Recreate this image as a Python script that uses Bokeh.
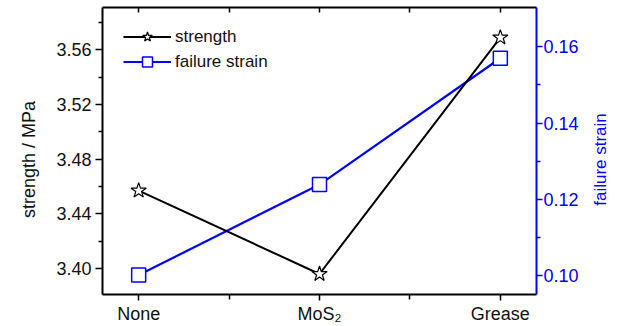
import math
from bokeh.plotting import figure
from bokeh.models import (Range1d, LinearAxis, FixedTicker, Legend, LegendItem,
                          NumeralTickFormatter, Label)
from bokeh.embed import file_html
from bokeh.resources import INLINE

categories = ["None", "MoS₂", "Grease"]
strength = [3.457, 3.396, 3.569]
failure_strain = [0.1002, 0.1239, 0.157]
left_ticks = [3.40, 3.44, 3.48, 3.52, 3.56]
left_minor = [3.42, 3.46, 3.50, 3.54, 3.58]
right_ticks = [0.10, 0.12, 0.14, 0.16]
right_minor = [0.11, 0.13, 0.15]
left_title = "strength / MPa"
right_title = "failure strain"

x = list(range(len(categories)))
x_minor = [i + 0.5 for i in x[:-1]]

FONT = "Liberation Sans"
BLUE = "#0000ff"
FS = "18px"

p = figure(width=617, height=326, output_backend="svg", toolbar_location=None,
           x_range=Range1d(-0.2, 2.2), y_range=Range1d(3.381, 3.591),
           min_border_left=102, min_border_right=81, min_border_top=7, min_border_bottom=31)
p.extra_y_ranges = {"strain": Range1d(0.0951, 0.1703)}
p.xgrid.visible = False
p.ygrid.visible = False
p.outline_line_color = None
p.background_fill_color = "white"
p.border_fill_color = "white"

def style_axis(ax, color):
    ax.axis_line_color = color
    ax.axis_line_width = 2
    ax.major_tick_line_color = color
    ax.minor_tick_line_color = color
    ax.major_tick_line_width = 1.5
    ax.minor_tick_line_width = 1.5
    ax.major_label_text_font = FONT
    ax.major_label_text_font_size = FS
    ax.major_label_text_color = color

xa = p.xaxis[0]
xa.ticker = FixedTicker(ticks=x, minor_ticks=x_minor)
xa.major_label_overrides = {i: c for i, c in zip(x, categories)}
style_axis(xa, "black")
xa.major_label_text_color = "#111111"
xa.major_tick_out = 6
xa.major_tick_in = 0
xa.minor_tick_out = 5
xa.minor_tick_in = 0
xa.major_label_standoff = 3

ya = p.yaxis[0]
ya.ticker = FixedTicker(ticks=left_ticks, minor_ticks=left_minor)
ya.formatter = NumeralTickFormatter(format="0.00")
style_axis(ya, "black")
ya.major_label_text_color = "#111111"
ya.major_tick_out = 7
ya.major_tick_in = 0
ya.minor_tick_out = 4
ya.minor_tick_in = 0
ya.major_label_standoff = 4

top = LinearAxis(ticker=FixedTicker(ticks=x, minor_ticks=x_minor))
style_axis(top, "black")
top.major_tick_out = 0
top.major_tick_in = 5
top.minor_tick_out = 0
top.minor_tick_in = 5
top.major_label_overrides = {i: "" for i in x}
top.major_label_standoff = 0
p.add_layout(top, "above")

ra = LinearAxis(y_range_name="strain",
                ticker=FixedTicker(ticks=right_ticks, minor_ticks=right_minor),
                formatter=NumeralTickFormatter(format="0.00"))
style_axis(ra, BLUE)
ra.major_tick_out = 6
ra.major_tick_in = 0
ra.minor_tick_out = 4
ra.minor_tick_in = 0
ra.major_label_standoff = 1
p.add_layout(ra, "right")

# axis titles, both reading bottom-to-top as in the reference
p.add_layout(Label(x=-5, y=135, x_units="screen", y_units="screen", text=left_title,
                   angle=math.pi / 2, text_align="center", text_baseline="middle",
                   text_font=FONT, text_font_size="18px", text_color="#111111"), "left")
p.add_layout(Label(x=19, y=135, x_units="screen", y_units="screen", text=right_title,
                   angle=math.pi / 2, text_align="center", text_baseline="middle",
                   text_font=FONT, text_font_size="17px", text_color=BLUE), "right")

bl = p.line(x, failure_strain, y_range_name="strain", line_color=BLUE, line_width=2.2)
bs = p.scatter(x, failure_strain, y_range_name="strain", marker="square", size=14,
               fill_color="white", line_color=BLUE, line_width=1.5)
kl = p.line(x, strength, line_color="black", line_width=2)
ks = p.scatter(x, strength, marker="star", size=16, fill_color="white",
               line_color="black", line_width=1.2)

legend = Legend(items=[LegendItem(label="strength", renderers=[kl, ks]),
                       LegendItem(label="failure strain", renderers=[bl, bs])],
                location=(21, 220), glyph_width=48, glyph_height=25, label_height=25,
                spacing=0, padding=0, margin=0, label_standoff=4,
                label_text_font=FONT, label_text_font_size="17px", label_text_color="#111111",
                border_line_color=None, background_fill_alpha=0)
p.add_layout(legend, "center")

open("out.html", "w").write(file_html(p, INLINE))
